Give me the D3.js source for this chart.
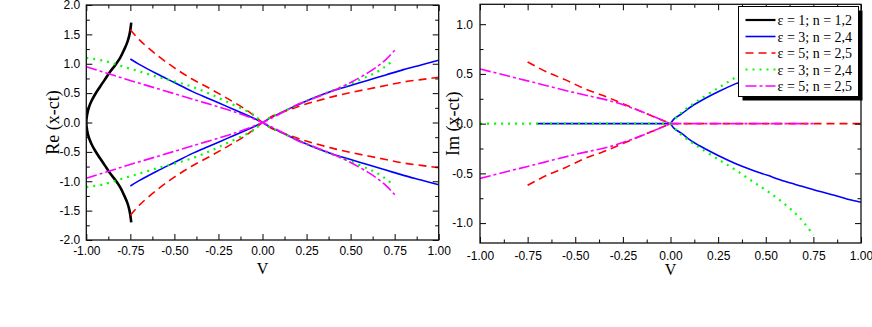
<!DOCTYPE html>
<html>
<head>
<meta charset="utf-8">
<script src="https://cdn.jsdelivr.net/npm/d3@7"></script>
<style>
  body { margin: 0; background: #fff; }
  .tick text { font-family: "Liberation Sans", Arial, sans-serif; font-size: 12px; fill: #000; }
  .tick line { stroke: #000; }
  .title { font-family: "Liberation Serif", "Times New Roman", serif; fill: #000; }
</style>
</head>
<body>
<div id="chart"></div>
<script>
// tick values
const vTicks = [-1, -0.75, -0.5, -0.25, 0, 0.25, 0.5, 0.75, 1];
const vMinor = [-0.875, -0.625, -0.375, -0.125, 0.125, 0.375, 0.625, 0.875];
const reTicks = [-2, -1.5, -1, -0.5, 0, 0.5, 1, 1.5, 2];
const reMinor = [-1.75, -1.25, -0.75, -0.25, 0.25, 0.75, 1.25, 1.75];
const imTicks = [-1, -0.5, 0, 0.5, 1];
const imMinor = [-0.75, -0.25, 0.25, 0.75];

const legendLabels = ["ε = 1; n = 1,2", "ε = 3; n = 2,4", "ε = 5; n = 2,5", "ε = 3; n = 2,4", "ε = 5; n = 2,5"];

// Re(x-ct) vs V: [V, value]
const reBlack = [[-0.745,1.70],[-0.750,1.58],[-0.757,1.47],[-0.768,1.36],[-0.785,1.24],[-0.808,1.10],[-0.835,0.98],[-0.866,0.86],[-0.895,0.73],[-0.922,0.61],[-0.948,0.49],[-0.970,0.37],[-0.985,0.26],[-0.995,0.14],[-1.0,0.0],
  [-0.995,-0.14],[-0.985,-0.26],[-0.970,-0.37],[-0.948,-0.49],[-0.922,-0.61],[-0.895,-0.73],[-0.866,-0.86],[-0.835,-0.98],[-0.808,-1.10],[-0.785,-1.24],[-0.768,-1.36],[-0.757,-1.47],[-0.750,-1.58],[-0.745,-1.70]];

const reBlueA = [[-0.75,1.08],[-0.70,0.99],[-0.60,0.83],[-0.50,0.68],[-0.40,0.53],[-0.30,0.40],[-0.20,0.27],[-0.10,0.14],[-0.04,0.06],[0,0],[0.05,-0.09],[0.10,-0.16],[0.20,-0.30],[0.30,-0.43],[0.40,-0.54],[0.50,-0.63],[0.60,-0.72],[0.70,-0.81],[0.80,-0.90],[0.90,-0.98],[1.00,-1.06]];
const reBlueB = [[-0.75,-1.08],[-0.70,-0.99],[-0.60,-0.83],[-0.50,-0.68],[-0.40,-0.53],[-0.30,-0.40],[-0.20,-0.27],[-0.10,-0.14],[-0.04,-0.06],[0,0],[0.05,0.09],[0.10,0.16],[0.20,0.30],[0.30,0.43],[0.40,0.54],[0.50,0.63],[0.60,0.72],[0.70,0.81],[0.80,0.90],[0.90,0.98],[1.00,1.06]];

const reRedA = [[-0.75,1.58],[-0.70,1.41],[-0.60,1.15],[-0.50,0.93],[-0.40,0.74],[-0.30,0.58],[-0.20,0.41],[-0.10,0.23],[-0.05,0.12],[0,0],[0.05,-0.10],[0.10,-0.16],[0.20,-0.27],[0.30,-0.36],[0.40,-0.44],[0.50,-0.51],[0.60,-0.57],[0.70,-0.63],[0.80,-0.69],[0.90,-0.73],[1.00,-0.77]];
const reRedB = [[-0.75,-1.58],[-0.70,-1.41],[-0.60,-1.15],[-0.50,-0.93],[-0.40,-0.74],[-0.30,-0.58],[-0.20,-0.41],[-0.10,-0.23],[-0.05,-0.12],[0,0],[0.05,0.10],[0.10,0.16],[0.20,0.27],[0.30,0.36],[0.40,0.44],[0.50,0.51],[0.60,0.57],[0.70,0.63],[0.80,0.69],[0.90,0.73],[1.00,0.77]];

const reGreenA = [[-1.00,1.10],[-0.90,1.05],[-0.80,0.96],[-0.70,0.87],[-0.60,0.78],[-0.50,0.70],[-0.40,0.61],[-0.30,0.49],[-0.20,0.35],[-0.10,0.21],[-0.05,0.13],[0,0],[0.05,-0.09],[0.10,-0.16],[0.20,-0.30],[0.30,-0.43],[0.40,-0.55],[0.50,-0.66],[0.60,-0.79],[0.65,-0.86],[0.70,-0.96],[0.75,-1.08]];
const reGreenB = [[-1.00,-1.10],[-0.90,-1.05],[-0.80,-0.96],[-0.70,-0.87],[-0.60,-0.78],[-0.50,-0.70],[-0.40,-0.61],[-0.30,-0.49],[-0.20,-0.35],[-0.10,-0.21],[-0.05,-0.13],[0,0],[0.05,0.09],[0.10,0.16],[0.20,0.30],[0.30,0.43],[0.40,0.55],[0.50,0.66],[0.60,0.79],[0.65,0.86],[0.70,0.96],[0.75,1.08]];

const reMagentaA = [[-1.00,0.95],[-0.80,0.76],[-0.60,0.58],[-0.40,0.40],[-0.20,0.22],[-0.10,0.12],[0,0],[0.10,-0.15],[0.20,-0.31],[0.30,-0.42],[0.40,-0.54],[0.50,-0.68],[0.60,-0.85],[0.65,-0.95],[0.70,-1.07],[0.75,-1.23]];
const reMagentaB = [[-1.00,-0.95],[-0.80,-0.76],[-0.60,-0.58],[-0.40,-0.40],[-0.20,-0.22],[-0.10,-0.12],[0,0],[0.10,0.15],[0.20,0.31],[0.30,0.42],[0.40,0.54],[0.50,0.68],[0.60,0.85],[0.65,0.95],[0.70,1.07],[0.75,1.23]];

// Im(x-ct) vs V
const imBlueZero = [[-0.70,0],[0,0]];
const imBlueUp = [[0,0],[0.02,0.05],[0.06,0.10],[0.10,0.16],[0.16,0.23],[0.25,0.32],[0.34,0.40],[0.42,0.46],[0.51,0.52],[0.60,0.58],[0.69,0.63],[0.78,0.68],[0.86,0.72],[0.93,0.76],[1.00,0.79]];
const imBlueDown = [[0,0],[0.02,-0.05],[0.06,-0.10],[0.10,-0.16],[0.16,-0.23],[0.25,-0.32],[0.34,-0.40],[0.42,-0.46],[0.51,-0.52],[0.60,-0.58],[0.69,-0.63],[0.78,-0.68],[0.86,-0.72],[0.93,-0.76],[1.00,-0.79]];

const imRedUp = [[-0.75,0.62],[-0.65,0.52],[-0.55,0.44],[-0.45,0.35],[-0.35,0.28],[-0.25,0.20],[-0.15,0.12],[-0.05,0.04],[0,0]];
const imRedDown = [[-0.75,-0.62],[-0.65,-0.52],[-0.55,-0.44],[-0.45,-0.35],[-0.35,-0.28],[-0.25,-0.20],[-0.15,-0.12],[-0.05,-0.04],[0,0]];
const imRedZero = [[0,0],[1,0]];

const imGreenZero = [[-1,0],[0,0]];
const imGreenUp = [[0,0],[0.05,0.10],[0.135,0.22],[0.26,0.37],[0.345,0.47],[0.43,0.58],[0.51,0.68],[0.60,0.81],[0.68,0.95],[0.75,1.12]];
const imGreenDown = [[0,0],[0.05,-0.10],[0.135,-0.22],[0.26,-0.37],[0.345,-0.47],[0.43,-0.58],[0.51,-0.68],[0.60,-0.81],[0.68,-0.95],[0.75,-1.12]];

const imMagentaUp = [[-1.00,0.55],[-0.75,0.43],[-0.50,0.31],[-0.30,0.22],[-0.15,0.12],[0,0]];
const imMagentaDown = [[-1.00,-0.55],[-0.75,-0.43],[-0.50,-0.31],[-0.30,-0.22],[-0.15,-0.12],[0,0]];
const imMagentaZero = [[0,0],[0.75,0]];

// line styles, same order as the legend
const styles = [
    { color: "#000000", dash: null, width: 2.6 },
    { color: "#0000ff", dash: null, width: 1.6 },
    { color: "#ff0000", dash: "8,5", width: 1.6 },
    { color: "#00ff00", dash: "2,5", width: 2.2 },
    { color: "#ff00ff", dash: "11,3,3,3", width: 1.6 }
];

const width = 872, height = 327;

let svg = d3.select("#chart")
    .append("svg")
    .attr("width", width)
    .attr("height", height);

function panel(id, box, yDomain, yTicks, yMinorTicks, series, yTitle, titleX, xTitleY) {
    let x = d3.scaleLinear().domain([-1, 1]).range([box.left, box.right]);
    let y = d3.scaleLinear().domain(yDomain).range([box.bottom, box.top]);

    svg.append("clipPath").attr("id", id)
        .append("rect")
        .attr("x", box.left).attr("y", box.top)
        .attr("width", box.right - box.left).attr("height", box.bottom - box.top);

    let line = d3.line()
        .x(d => x(d[0]))
        .y(d => y(d[1]))
        .curve(d3.curveCatmullRom.alpha(0.5));

    let g = svg.append("g").attr("clip-path", `url(#${id})`);
    series.forEach(s => {
        s.paths.forEach(p => {
            g.append("path")
                .attr("d", line(p))
                .attr("fill", "none")
                .attr("stroke", styles[s.style].color)
                .attr("stroke-width", styles[s.style].width)
                .attr("stroke-dasharray", styles[s.style].dash);
        });
    });

    // ticks inward on all four sides
    let fmt2 = d => d.toFixed(2);
    let fmt1 = d => d.toFixed(1);
    let ax = [
        [`translate(0,${box.bottom})`, d3.axisBottom(x).tickValues(vTicks).tickSize(-6).tickPadding(box.xPad).tickFormat(fmt2)],
        [`translate(0,${box.bottom})`, d3.axisBottom(x).tickValues(vMinor).tickSize(-3.5).tickFormat("")],
        [`translate(0,${box.top})`, d3.axisTop(x).tickValues(vTicks).tickSize(-6).tickFormat("")],
        [`translate(0,${box.top})`, d3.axisTop(x).tickValues(vMinor).tickSize(-3.5).tickFormat("")],
        [`translate(${box.left},0)`, d3.axisLeft(y).tickValues(yTicks).tickSize(-6).tickPadding(box.yPad).tickFormat(fmt1)],
        [`translate(${box.left},0)`, d3.axisLeft(y).tickValues(yMinorTicks).tickSize(-3.5).tickFormat("")],
        [`translate(${box.right},0)`, d3.axisRight(y).tickValues(yTicks).tickSize(-6).tickFormat("")],
        [`translate(${box.right},0)`, d3.axisRight(y).tickValues(yMinorTicks).tickSize(-3.5).tickFormat("")]
    ];
    ax.forEach(a => {
        svg.append("g")
            .attr("transform", a[0])
            .call(a[1])
            .call(g => g.select(".domain").remove());
    });

    svg.append("rect") // frame
        .attr("x", box.left).attr("y", box.top)
        .attr("width", box.right - box.left).attr("height", box.bottom - box.top)
        .attr("fill", "none")
        .attr("stroke", "#111")
        .attr("stroke-width", 1.3);

    svg.append("text")
        .attr("class", "title")
        .attr("text-anchor", "middle")
        .attr("transform", `translate(${titleX},${(box.top + box.bottom) / 2}) rotate(-90)`)
        .style("font-size", "18px")
        .text(yTitle);

    svg.append("text")
        .attr("class", "title")
        .attr("text-anchor", "middle")
        .attr("x", (box.left + box.right) / 2)
        .attr("y", xTitleY)
        .style("font-size", "16px")
        .text("V");

    return { x, y };
}

panel("clipRe", { left: 86.3, right: 438.7, top: 5, bottom: 240, xPad: 6.5, yPad: 6 },
    [-2, 2], reTicks, reMinor,
    [
        { style: 0, paths: [reBlack] },
        { style: 1, paths: [reBlueA, reBlueB] },
        { style: 2, paths: [reRedA, reRedB] },
        { style: 3, paths: [reGreenA, reGreenB] },
        { style: 4, paths: [reMagentaA, reMagentaB] }
    ], "Re (x-ct)", 59, 274);

panel("clipIm", { left: 480, right: 861, top: 4.3, bottom: 243, xPad: 8, yPad: 7 },
    [-1.2, 1.2], imTicks, imMinor,
    [
        { style: 1, paths: [imBlueZero, imBlueUp, imBlueDown] },
        { style: 2, paths: [imRedUp, imRedDown, imRedZero] },
        { style: 3, paths: [imGreenZero, imGreenUp, imGreenDown] },
        { style: 4, paths: [imMagentaUp, imMagentaDown, imMagentaZero] }
    ], "Im (x-ct)", 459, 275);

// legend with drop shadow
let lg = { x: 738.5, y: 6.5, w: 120, h: 90 };
svg.append("rect")
    .attr("x", lg.x + 4).attr("y", lg.y + 4)
    .attr("width", lg.w).attr("height", lg.h)
    .attr("fill", "#000");
svg.append("rect")
    .attr("x", lg.x).attr("y", lg.y)
    .attr("width", lg.w).attr("height", lg.h)
    .attr("fill", "#fff")
    .attr("stroke", "#000")
    .attr("stroke-width", 1);

let item = svg.selectAll(".legend-item")
    .data(legendLabels)
    .join("g")
    .attr("class", "legend-item")
    .attr("transform", (d, i) => `translate(${lg.x}, ${lg.y + 13.5 + i * 16.5})`);

item.append("line")
    .attr("x1", 7).attr("x2", 37)
    .attr("stroke", (d, i) => styles[i].color)
    .attr("stroke-width", (d, i) => Math.min(styles[i].width, 2.2))
    .attr("stroke-dasharray", (d, i) => styles[i].dash);

item.append("text")
    .attr("class", "title")
    .attr("x", 39)
    .attr("y", 5)
    .style("font-size", "14px")
    .text(d => d);
</script>
</body>
</html>
